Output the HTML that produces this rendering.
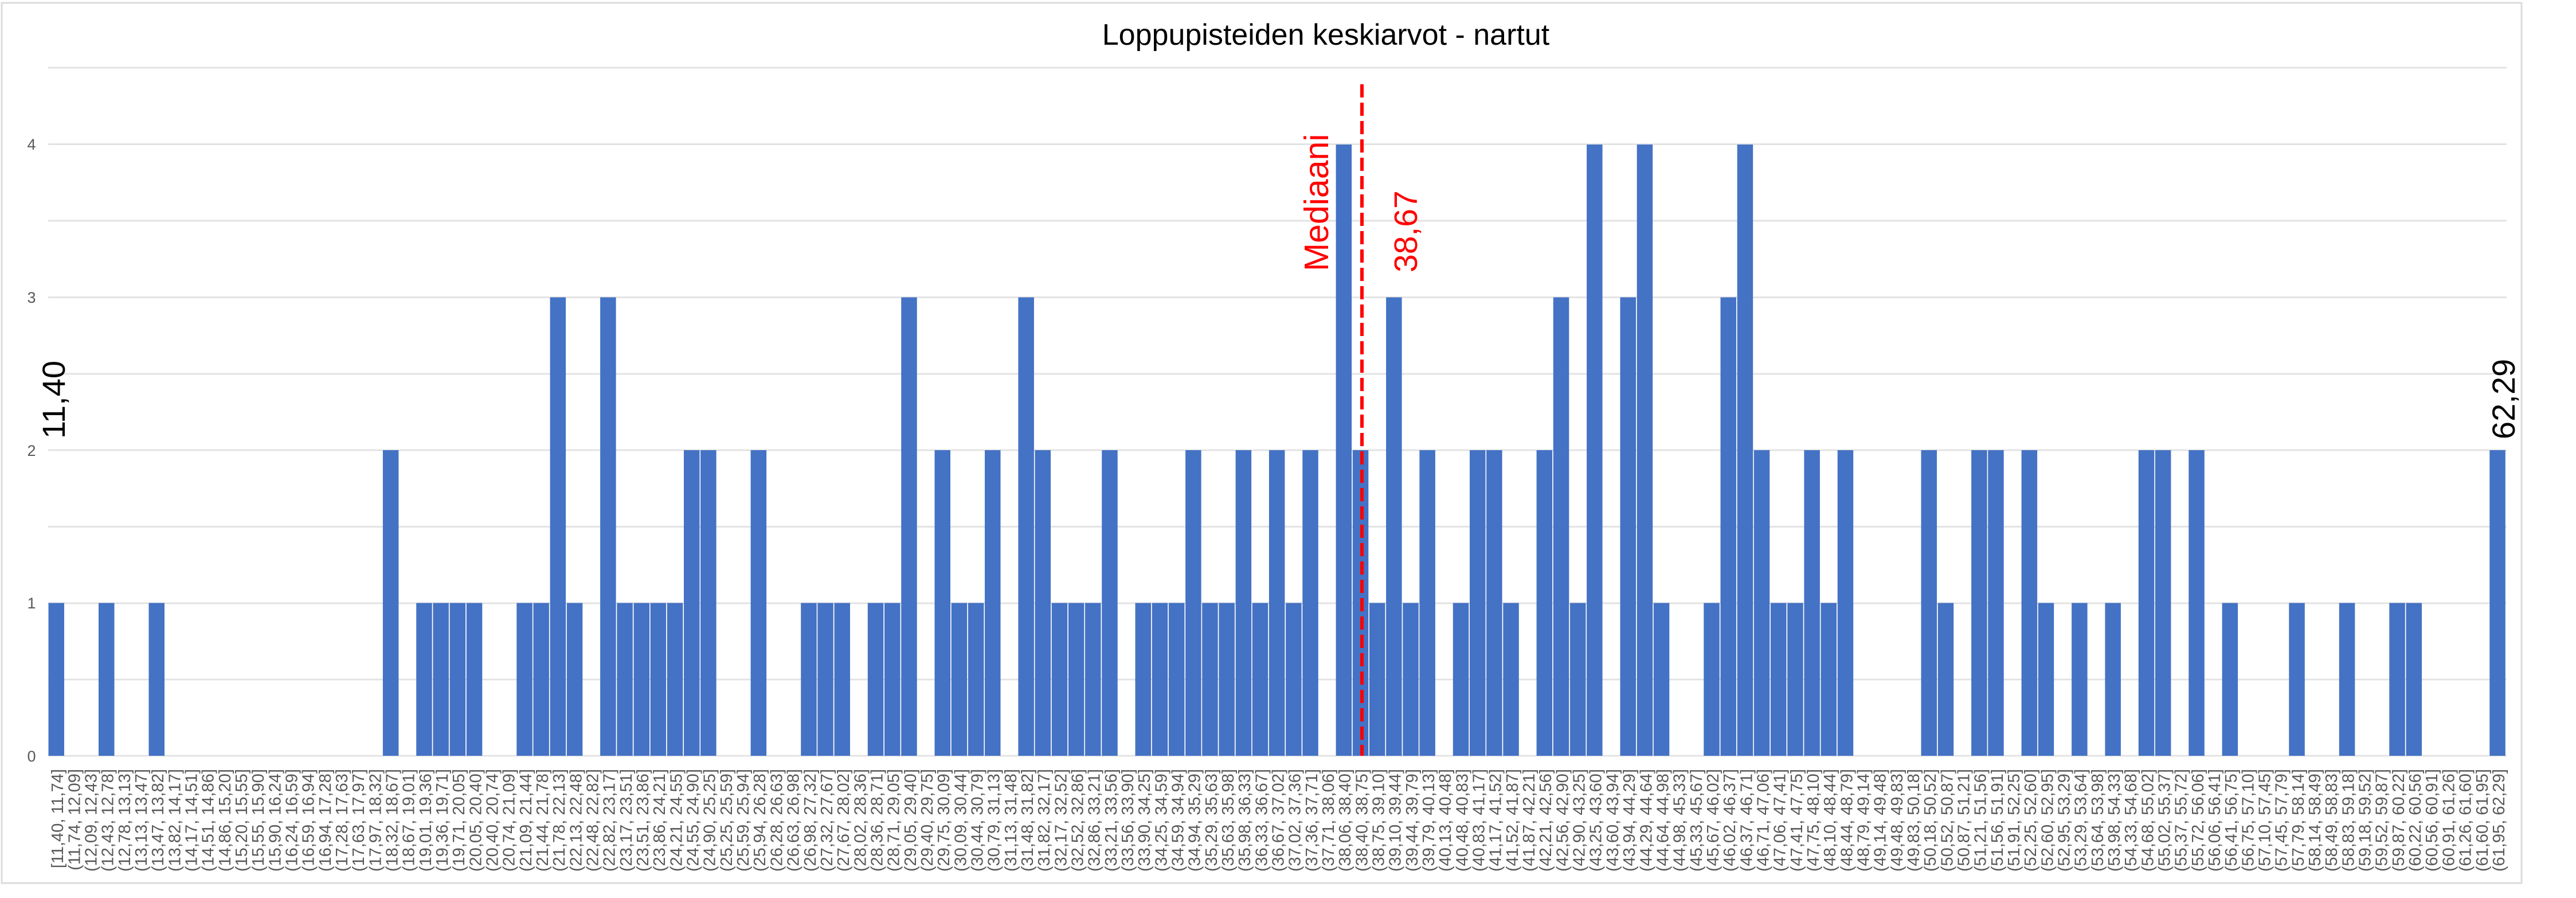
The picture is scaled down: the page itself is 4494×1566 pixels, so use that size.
<!DOCTYPE html>
<html><head><meta charset="utf-8"><style>
html,body{margin:0;padding:0;background:#fff;}
svg{display:block;}
</style></head><body>
<svg width="4494" height="1566" viewBox="0 0 4494 1566" xmlns="http://www.w3.org/2000/svg" font-family="Liberation Sans, sans-serif">
<rect x="0" y="0" width="4494" height="1566" fill="#fff"/>
<rect x="3" y="5" width="4396" height="1535" fill="none" stroke="#dcdcdc" stroke-width="3"/>
<text x="2313" y="78" font-size="52" text-anchor="middle" fill="#000">Loppupisteiden keskiarvot - nartut</text>
<g stroke="#e3e3e3" stroke-width="3">
<line x1="84" y1="118" x2="4373" y2="118"/><line x1="84" y1="251.5" x2="4373" y2="251.5"/>
<line x1="84" y1="385" x2="4373" y2="385"/><line x1="84" y1="518.5" x2="4373" y2="518.5"/>
<line x1="84" y1="652" x2="4373" y2="652"/><line x1="84" y1="785" x2="4373" y2="785"/>
<line x1="84" y1="918.5" x2="4373" y2="918.5"/><line x1="84" y1="1052" x2="4373" y2="1052"/>
<line x1="84" y1="1185" x2="4373" y2="1185"/><line x1="84" y1="1318" x2="4373" y2="1318"/>
</g>
<g font-size="27" fill="#595959" text-anchor="middle">
<text x="55" y="1328">0</text><text x="55" y="1061">1</text><text x="55" y="795">2</text><text x="55" y="528">3</text><text x="55" y="261">4</text>
</g>
<g fill="#4472C4">
<rect x="84.5" y="1051.5" width="27.5" height="266.5"/>
<rect x="172.0" y="1051.5" width="27.5" height="266.5"/>
<rect x="259.5" y="1051.5" width="27.5" height="266.5"/>
<rect x="667.9" y="785" width="27.5" height="533"/>
<rect x="726.2" y="1051.5" width="27.5" height="266.5"/>
<rect x="755.4" y="1051.5" width="27.5" height="266.5"/>
<rect x="784.6" y="1051.5" width="27.5" height="266.5"/>
<rect x="813.8" y="1051.5" width="27.5" height="266.5"/>
<rect x="901.3" y="1051.5" width="27.5" height="266.5"/>
<rect x="930.4" y="1051.5" width="27.5" height="266.5"/>
<rect x="959.6" y="518.5" width="27.5" height="799.5"/>
<rect x="988.8" y="1051.5" width="27.5" height="266.5"/>
<rect x="1047.1" y="518.5" width="27.5" height="799.5"/>
<rect x="1076.3" y="1051.5" width="27.5" height="266.5"/>
<rect x="1105.5" y="1051.5" width="27.5" height="266.5"/>
<rect x="1134.6" y="1051.5" width="27.5" height="266.5"/>
<rect x="1163.8" y="1051.5" width="27.5" height="266.5"/>
<rect x="1193.0" y="785" width="27.5" height="533"/>
<rect x="1222.1" y="785" width="27.5" height="533"/>
<rect x="1309.6" y="785" width="27.5" height="533"/>
<rect x="1397.2" y="1051.5" width="27.5" height="266.5"/>
<rect x="1426.3" y="1051.5" width="27.5" height="266.5"/>
<rect x="1455.5" y="1051.5" width="27.5" height="266.5"/>
<rect x="1513.8" y="1051.5" width="27.5" height="266.5"/>
<rect x="1543.0" y="1051.5" width="27.5" height="266.5"/>
<rect x="1572.2" y="518.5" width="27.5" height="799.5"/>
<rect x="1630.5" y="785" width="27.5" height="533"/>
<rect x="1659.7" y="1051.5" width="27.5" height="266.5"/>
<rect x="1688.9" y="1051.5" width="27.5" height="266.5"/>
<rect x="1718.0" y="785" width="27.5" height="533"/>
<rect x="1776.4" y="518.5" width="27.5" height="799.5"/>
<rect x="1805.5" y="785" width="27.5" height="533"/>
<rect x="1834.7" y="1051.5" width="27.5" height="266.5"/>
<rect x="1863.9" y="1051.5" width="27.5" height="266.5"/>
<rect x="1893.0" y="1051.5" width="27.5" height="266.5"/>
<rect x="1922.2" y="785" width="27.5" height="533"/>
<rect x="1980.5" y="1051.5" width="27.5" height="266.5"/>
<rect x="2009.7" y="1051.5" width="27.5" height="266.5"/>
<rect x="2038.9" y="1051.5" width="27.5" height="266.5"/>
<rect x="2068.1" y="785" width="27.5" height="533"/>
<rect x="2097.2" y="1051.5" width="27.5" height="266.5"/>
<rect x="2126.4" y="1051.5" width="27.5" height="266.5"/>
<rect x="2155.6" y="785" width="27.5" height="533"/>
<rect x="2184.7" y="1051.5" width="27.5" height="266.5"/>
<rect x="2213.9" y="785" width="27.5" height="533"/>
<rect x="2243.1" y="1051.5" width="27.5" height="266.5"/>
<rect x="2272.3" y="785" width="27.5" height="533"/>
<rect x="2330.6" y="252" width="27.5" height="1066"/>
<rect x="2359.8" y="785" width="27.5" height="533"/>
<rect x="2388.9" y="1051.5" width="27.5" height="266.5"/>
<rect x="2418.1" y="518.5" width="27.5" height="799.5"/>
<rect x="2447.3" y="1051.5" width="27.5" height="266.5"/>
<rect x="2476.4" y="785" width="27.5" height="533"/>
<rect x="2534.8" y="1051.5" width="27.5" height="266.5"/>
<rect x="2564.0" y="785" width="27.5" height="533"/>
<rect x="2593.1" y="785" width="27.5" height="533"/>
<rect x="2622.3" y="1051.5" width="27.5" height="266.5"/>
<rect x="2680.6" y="785" width="27.5" height="533"/>
<rect x="2709.8" y="518.5" width="27.5" height="799.5"/>
<rect x="2739.0" y="1051.5" width="27.5" height="266.5"/>
<rect x="2768.1" y="252" width="27.5" height="1066"/>
<rect x="2826.5" y="518.5" width="27.5" height="799.5"/>
<rect x="2855.7" y="252" width="27.5" height="1066"/>
<rect x="2884.8" y="1051.5" width="27.5" height="266.5"/>
<rect x="2972.3" y="1051.5" width="27.5" height="266.5"/>
<rect x="3001.5" y="518.5" width="27.5" height="799.5"/>
<rect x="3030.7" y="252" width="27.5" height="1066"/>
<rect x="3059.8" y="785" width="27.5" height="533"/>
<rect x="3089.0" y="1051.5" width="27.5" height="266.5"/>
<rect x="3118.2" y="1051.5" width="27.5" height="266.5"/>
<rect x="3147.4" y="785" width="27.5" height="533"/>
<rect x="3176.5" y="1051.5" width="27.5" height="266.5"/>
<rect x="3205.7" y="785" width="27.5" height="533"/>
<rect x="3351.5" y="785" width="27.5" height="533"/>
<rect x="3380.7" y="1051.5" width="27.5" height="266.5"/>
<rect x="3439.1" y="785" width="27.5" height="533"/>
<rect x="3468.2" y="785" width="27.5" height="533"/>
<rect x="3526.6" y="785" width="27.5" height="533"/>
<rect x="3555.7" y="1051.5" width="27.5" height="266.5"/>
<rect x="3614.1" y="1051.5" width="27.5" height="266.5"/>
<rect x="3672.4" y="1051.5" width="27.5" height="266.5"/>
<rect x="3730.8" y="785" width="27.5" height="533"/>
<rect x="3759.9" y="785" width="27.5" height="533"/>
<rect x="3818.3" y="785" width="27.5" height="533"/>
<rect x="3876.6" y="1051.5" width="27.5" height="266.5"/>
<rect x="3993.3" y="1051.5" width="27.5" height="266.5"/>
<rect x="4080.8" y="1051.5" width="27.5" height="266.5"/>
<rect x="4168.3" y="1051.5" width="27.5" height="266.5"/>
<rect x="4197.5" y="1051.5" width="27.5" height="266.5"/>
<rect x="4343.3" y="785" width="27.5" height="533"/>
</g>
<line x1="2376" y1="147" x2="2376" y2="1318" stroke="#FF0000" stroke-width="6" stroke-dasharray="23 9"/>
<text transform="translate(2317,473) rotate(-90)" font-size="59" fill="#FF0000">Mediaani</text>
<text transform="translate(2472,475) rotate(-90)" font-size="57" fill="#FF0000">38,67</text>
<text transform="translate(113,765) rotate(-90)" font-size="56" fill="#000">11,40</text>
<text transform="translate(4387,766) rotate(-90)" font-size="56" fill="#000">62,29</text>
<g font-size="29" fill="#595959" text-anchor="end" transform="translate(3.5,0)">
<text transform="translate(106.6,1341) rotate(-90)">[11,40, 11,74]</text>
<text transform="translate(135.8,1341) rotate(-90)">(11,74, 12,09]</text>
<text transform="translate(164.9,1341) rotate(-90)">(12,09, 12,43]</text>
<text transform="translate(194.1,1341) rotate(-90)">(12,43, 12,78]</text>
<text transform="translate(223.3,1341) rotate(-90)">(12,78, 13,13]</text>
<text transform="translate(252.5,1341) rotate(-90)">(13,13, 13,47]</text>
<text transform="translate(281.6,1341) rotate(-90)">(13,47, 13,82]</text>
<text transform="translate(310.8,1341) rotate(-90)">(13,82, 14,17]</text>
<text transform="translate(340.0,1341) rotate(-90)">(14,17, 14,51]</text>
<text transform="translate(369.1,1341) rotate(-90)">(14,51, 14,86]</text>
<text transform="translate(398.3,1341) rotate(-90)">(14,86, 15,20]</text>
<text transform="translate(427.5,1341) rotate(-90)">(15,20, 15,55]</text>
<text transform="translate(456.6,1341) rotate(-90)">(15,55, 15,90]</text>
<text transform="translate(485.8,1341) rotate(-90)">(15,90, 16,24]</text>
<text transform="translate(515.0,1341) rotate(-90)">(16,24, 16,59]</text>
<text transform="translate(544.2,1341) rotate(-90)">(16,59, 16,94]</text>
<text transform="translate(573.3,1341) rotate(-90)">(16,94, 17,28]</text>
<text transform="translate(602.5,1341) rotate(-90)">(17,28, 17,63]</text>
<text transform="translate(631.7,1341) rotate(-90)">(17,63, 17,97]</text>
<text transform="translate(660.8,1341) rotate(-90)">(17,97, 18,32]</text>
<text transform="translate(690.0,1341) rotate(-90)">(18,32, 18,67]</text>
<text transform="translate(719.2,1341) rotate(-90)">(18,67, 19,01]</text>
<text transform="translate(748.3,1341) rotate(-90)">(19,01, 19,36]</text>
<text transform="translate(777.5,1341) rotate(-90)">(19,36, 19,71]</text>
<text transform="translate(806.7,1341) rotate(-90)">(19,71, 20,05]</text>
<text transform="translate(835.9,1341) rotate(-90)">(20,05, 20,40]</text>
<text transform="translate(865.0,1341) rotate(-90)">(20,40, 20,74]</text>
<text transform="translate(894.2,1341) rotate(-90)">(20,74, 21,09]</text>
<text transform="translate(923.4,1341) rotate(-90)">(21,09, 21,44]</text>
<text transform="translate(952.5,1341) rotate(-90)">(21,44, 21,78]</text>
<text transform="translate(981.7,1341) rotate(-90)">(21,78, 22,13]</text>
<text transform="translate(1010.9,1341) rotate(-90)">(22,13, 22,48]</text>
<text transform="translate(1040.0,1341) rotate(-90)">(22,48, 22,82]</text>
<text transform="translate(1069.2,1341) rotate(-90)">(22,82, 23,17]</text>
<text transform="translate(1098.4,1341) rotate(-90)">(23,17, 23,51]</text>
<text transform="translate(1127.6,1341) rotate(-90)">(23,51, 23,86]</text>
<text transform="translate(1156.7,1341) rotate(-90)">(23,86, 24,21]</text>
<text transform="translate(1185.9,1341) rotate(-90)">(24,21, 24,55]</text>
<text transform="translate(1215.1,1341) rotate(-90)">(24,55, 24,90]</text>
<text transform="translate(1244.2,1341) rotate(-90)">(24,90, 25,25]</text>
<text transform="translate(1273.4,1341) rotate(-90)">(25,25, 25,59]</text>
<text transform="translate(1302.6,1341) rotate(-90)">(25,59, 25,94]</text>
<text transform="translate(1331.7,1341) rotate(-90)">(25,94, 26,28]</text>
<text transform="translate(1360.9,1341) rotate(-90)">(26,28, 26,63]</text>
<text transform="translate(1390.1,1341) rotate(-90)">(26,63, 26,98]</text>
<text transform="translate(1419.3,1341) rotate(-90)">(26,98, 27,32]</text>
<text transform="translate(1448.4,1341) rotate(-90)">(27,32, 27,67]</text>
<text transform="translate(1477.6,1341) rotate(-90)">(27,67, 28,02]</text>
<text transform="translate(1506.8,1341) rotate(-90)">(28,02, 28,36]</text>
<text transform="translate(1535.9,1341) rotate(-90)">(28,36, 28,71]</text>
<text transform="translate(1565.1,1341) rotate(-90)">(28,71, 29,05]</text>
<text transform="translate(1594.3,1341) rotate(-90)">(29,05, 29,40]</text>
<text transform="translate(1623.4,1341) rotate(-90)">(29,40, 29,75]</text>
<text transform="translate(1652.6,1341) rotate(-90)">(29,75, 30,09]</text>
<text transform="translate(1681.8,1341) rotate(-90)">(30,09, 30,44]</text>
<text transform="translate(1711.0,1341) rotate(-90)">(30,44, 30,79]</text>
<text transform="translate(1740.1,1341) rotate(-90)">(30,79, 31,13]</text>
<text transform="translate(1769.3,1341) rotate(-90)">(31,13, 31,48]</text>
<text transform="translate(1798.5,1341) rotate(-90)">(31,48, 31,82]</text>
<text transform="translate(1827.6,1341) rotate(-90)">(31,82, 32,17]</text>
<text transform="translate(1856.8,1341) rotate(-90)">(32,17, 32,52]</text>
<text transform="translate(1886.0,1341) rotate(-90)">(32,52, 32,86]</text>
<text transform="translate(1915.1,1341) rotate(-90)">(32,86, 33,21]</text>
<text transform="translate(1944.3,1341) rotate(-90)">(33,21, 33,56]</text>
<text transform="translate(1973.5,1341) rotate(-90)">(33,56, 33,90]</text>
<text transform="translate(2002.7,1341) rotate(-90)">(33,90, 34,25]</text>
<text transform="translate(2031.8,1341) rotate(-90)">(34,25, 34,59]</text>
<text transform="translate(2061.0,1341) rotate(-90)">(34,59, 34,94]</text>
<text transform="translate(2090.2,1341) rotate(-90)">(34,94, 35,29]</text>
<text transform="translate(2119.3,1341) rotate(-90)">(35,29, 35,63]</text>
<text transform="translate(2148.5,1341) rotate(-90)">(35,63, 35,98]</text>
<text transform="translate(2177.7,1341) rotate(-90)">(35,98, 36,33]</text>
<text transform="translate(2206.8,1341) rotate(-90)">(36,33, 36,67]</text>
<text transform="translate(2236.0,1341) rotate(-90)">(36,67, 37,02]</text>
<text transform="translate(2265.2,1341) rotate(-90)">(37,02, 37,36]</text>
<text transform="translate(2294.4,1341) rotate(-90)">(37,36, 37,71]</text>
<text transform="translate(2323.5,1341) rotate(-90)">(37,71, 38,06]</text>
<text transform="translate(2352.7,1341) rotate(-90)">(38,06, 38,40]</text>
<text transform="translate(2381.9,1341) rotate(-90)">(38,40, 38,75]</text>
<text transform="translate(2411.0,1341) rotate(-90)">(38,75, 39,10]</text>
<text transform="translate(2440.2,1341) rotate(-90)">(39,10, 39,44]</text>
<text transform="translate(2469.4,1341) rotate(-90)">(39,44, 39,79]</text>
<text transform="translate(2498.5,1341) rotate(-90)">(39,79, 40,13]</text>
<text transform="translate(2527.7,1341) rotate(-90)">(40,13, 40,48]</text>
<text transform="translate(2556.9,1341) rotate(-90)">(40,48, 40,83]</text>
<text transform="translate(2586.1,1341) rotate(-90)">(40,83, 41,17]</text>
<text transform="translate(2615.2,1341) rotate(-90)">(41,17, 41,52]</text>
<text transform="translate(2644.4,1341) rotate(-90)">(41,52, 41,87]</text>
<text transform="translate(2673.6,1341) rotate(-90)">(41,87, 42,21]</text>
<text transform="translate(2702.7,1341) rotate(-90)">(42,21, 42,56]</text>
<text transform="translate(2731.9,1341) rotate(-90)">(42,56, 42,90]</text>
<text transform="translate(2761.1,1341) rotate(-90)">(42,90, 43,25]</text>
<text transform="translate(2790.2,1341) rotate(-90)">(43,25, 43,60]</text>
<text transform="translate(2819.4,1341) rotate(-90)">(43,60, 43,94]</text>
<text transform="translate(2848.6,1341) rotate(-90)">(43,94, 44,29]</text>
<text transform="translate(2877.8,1341) rotate(-90)">(44,29, 44,64]</text>
<text transform="translate(2906.9,1341) rotate(-90)">(44,64, 44,98]</text>
<text transform="translate(2936.1,1341) rotate(-90)">(44,98, 45,33]</text>
<text transform="translate(2965.3,1341) rotate(-90)">(45,33, 45,67]</text>
<text transform="translate(2994.4,1341) rotate(-90)">(45,67, 46,02]</text>
<text transform="translate(3023.6,1341) rotate(-90)">(46,02, 46,37]</text>
<text transform="translate(3052.8,1341) rotate(-90)">(46,37, 46,71]</text>
<text transform="translate(3081.9,1341) rotate(-90)">(46,71, 47,06]</text>
<text transform="translate(3111.1,1341) rotate(-90)">(47,06, 47,41]</text>
<text transform="translate(3140.3,1341) rotate(-90)">(47,41, 47,75]</text>
<text transform="translate(3169.5,1341) rotate(-90)">(47,75, 48,10]</text>
<text transform="translate(3198.6,1341) rotate(-90)">(48,10, 48,44]</text>
<text transform="translate(3227.8,1341) rotate(-90)">(48,44, 48,79]</text>
<text transform="translate(3257.0,1341) rotate(-90)">(48,79, 49,14]</text>
<text transform="translate(3286.1,1341) rotate(-90)">(49,14, 49,48]</text>
<text transform="translate(3315.3,1341) rotate(-90)">(49,48, 49,83]</text>
<text transform="translate(3344.5,1341) rotate(-90)">(49,83, 50,18]</text>
<text transform="translate(3373.6,1341) rotate(-90)">(50,18, 50,52]</text>
<text transform="translate(3402.8,1341) rotate(-90)">(50,52, 50,87]</text>
<text transform="translate(3432.0,1341) rotate(-90)">(50,87, 51,21]</text>
<text transform="translate(3461.2,1341) rotate(-90)">(51,21, 51,56]</text>
<text transform="translate(3490.3,1341) rotate(-90)">(51,56, 51,91]</text>
<text transform="translate(3519.5,1341) rotate(-90)">(51,91, 52,25]</text>
<text transform="translate(3548.7,1341) rotate(-90)">(52,25, 52,60]</text>
<text transform="translate(3577.8,1341) rotate(-90)">(52,60, 52,95]</text>
<text transform="translate(3607.0,1341) rotate(-90)">(52,95, 53,29]</text>
<text transform="translate(3636.2,1341) rotate(-90)">(53,29, 53,64]</text>
<text transform="translate(3665.3,1341) rotate(-90)">(53,64, 53,98]</text>
<text transform="translate(3694.5,1341) rotate(-90)">(53,98, 54,33]</text>
<text transform="translate(3723.7,1341) rotate(-90)">(54,33, 54,68]</text>
<text transform="translate(3752.9,1341) rotate(-90)">(54,68, 55,02]</text>
<text transform="translate(3782.0,1341) rotate(-90)">(55,02, 55,37]</text>
<text transform="translate(3811.2,1341) rotate(-90)">(55,37, 55,72]</text>
<text transform="translate(3840.4,1341) rotate(-90)">(55,72, 56,06]</text>
<text transform="translate(3869.5,1341) rotate(-90)">(56,06, 56,41]</text>
<text transform="translate(3898.7,1341) rotate(-90)">(56,41, 56,75]</text>
<text transform="translate(3927.9,1341) rotate(-90)">(56,75, 57,10]</text>
<text transform="translate(3957.0,1341) rotate(-90)">(57,10, 57,45]</text>
<text transform="translate(3986.2,1341) rotate(-90)">(57,45, 57,79]</text>
<text transform="translate(4015.4,1341) rotate(-90)">(57,79, 58,14]</text>
<text transform="translate(4044.6,1341) rotate(-90)">(58,14, 58,49]</text>
<text transform="translate(4073.7,1341) rotate(-90)">(58,49, 58,83]</text>
<text transform="translate(4102.9,1341) rotate(-90)">(58,83, 59,18]</text>
<text transform="translate(4132.1,1341) rotate(-90)">(59,18, 59,52]</text>
<text transform="translate(4161.2,1341) rotate(-90)">(59,52, 59,87]</text>
<text transform="translate(4190.4,1341) rotate(-90)">(59,87, 60,22]</text>
<text transform="translate(4219.6,1341) rotate(-90)">(60,22, 60,56]</text>
<text transform="translate(4248.7,1341) rotate(-90)">(60,56, 60,91]</text>
<text transform="translate(4277.9,1341) rotate(-90)">(60,91, 61,26]</text>
<text transform="translate(4307.1,1341) rotate(-90)">(61,26, 61,60]</text>
<text transform="translate(4336.3,1341) rotate(-90)">(61,60, 61,95]</text>
<text transform="translate(4365.4,1341) rotate(-90)">(61,95, 62,29]</text>
</g>
</svg>
</body></html>
